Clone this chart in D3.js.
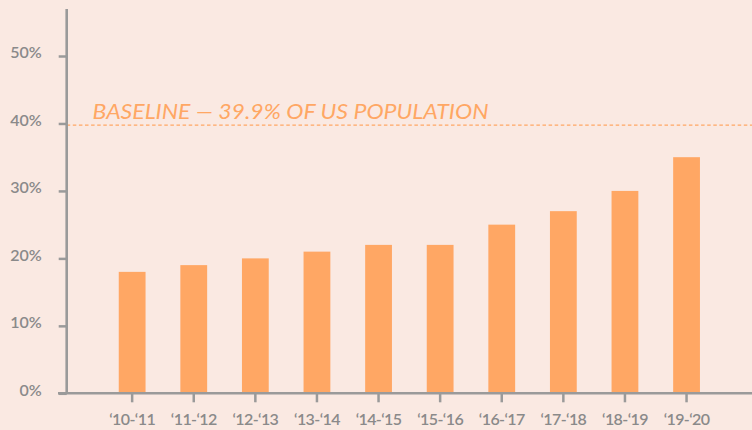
<!DOCTYPE html>
<html><head><meta charset="utf-8">
<script src="https://cdn.jsdelivr.net/npm/d3@7"></script>
<style>
html,body{margin:0;padding:0;background:#fae9e2;}
svg{display:block;}
</style></head>
<body>
<svg id="chart" width="752" height="430"></svg>
<script>
const categories = ["‘10-‘11","‘11-‘12","‘12-‘13","‘13-‘14","‘14-‘15","‘15-‘16","‘16-‘17","‘17-‘18","‘18-‘19","‘19-‘20"];
const values = [18, 19, 20, 21, 22, 22, 25, 27, 30, 35];
const yTicks = [0, 10, 20, 30, 40, 50];
const baselineValue = 39.9;
const baselineLabel = "BASELINE — 39.9% OF US POPULATION";

(function () {
const W = 752, H = 430;
const mLeft = 66.7, mBottom = 393.3, mTop = 9;
const svg = d3.select("#chart");
svg.append("rect").attr("width", W).attr("height", H).attr("fill", "#fae9e2");

const y = d3.scaleLinear().domain([0, 50]).range([mBottom, 56]);
const x = d3.scaleBand().domain(categories).range([mLeft, W]).paddingInner(0.565).paddingOuter(0.845);

const gray = "#9a9a9a";
const labelGray = "#8a8a8a";
const orange = "#ffa764";
const font = "Lato, 'Open Sans', sans-serif";

// bars
svg.append("g").selectAll("rect").data(values).join("rect")
  .attr("x", (d, i) => x(categories[i]))
  .attr("y", d => y(d))
  .attr("width", x.bandwidth())
  .attr("height", d => mBottom - y(d))
  .attr("fill", orange);

// baseline
svg.append("line")
  .attr("x1", mLeft).attr("x2", W)
  .attr("y1", y(baselineValue) + 1).attr("y2", y(baselineValue) + 1)
  .attr("stroke", orange).attr("stroke-width", 1.3)
  .attr("stroke-dasharray", "3.5,2.6");
svg.append("text")
  .attr("x", 92.5).attr("y", y(baselineValue) - 5)
  .attr("fill", orange)
  .attr("font-family", font)
  .attr("font-style", "italic")
  .attr("font-size", 21)
  .attr("textLength", 396)
  .attr("lengthAdjust", "spacingAndGlyphs")
  .text(baselineLabel);

// y axis
const yAxis = d3.axisLeft(y).tickValues(yTicks).tickFormat(d => d + "%").tickSize(8).tickSizeOuter(0).tickPadding(17);
const gy = svg.append("g").attr("transform", `translate(${mLeft},0)`).call(yAxis);
gy.select(".domain").remove();
gy.selectAll(".tick line").attr("stroke", gray).attr("stroke-width", 2.5);
gy.selectAll(".tick text").attr("fill", labelGray).attr("font-family", font).attr("font-size", 16).attr("font-weight", 600)
  .attr("dy", "0.12em");
svg.append("line").attr("x1", mLeft).attr("x2", mLeft).attr("y1", mTop).attr("y2", mBottom)
  .attr("stroke", gray).attr("stroke-width", 2.6);

// x axis
const xAxis = d3.axisBottom(x).tickSize(9).tickSizeOuter(0).tickPadding(11);
const gx = svg.append("g").attr("transform", `translate(0,${mBottom})`).call(xAxis);
gx.select(".domain").remove();
gx.selectAll(".tick line").attr("stroke", gray).attr("stroke-width", 2.5);
gx.selectAll(".tick text").attr("fill", labelGray).attr("font-family", font).attr("font-size", 16).attr("font-weight", 600)
  .attr("letter-spacing", "-0.6px");
svg.append("line").attr("x1", 58).attr("x2", W).attr("y1", mBottom).attr("y2", mBottom)
  .attr("stroke", gray).attr("stroke-width", 2.6);
})();
</script>
</body></html>
